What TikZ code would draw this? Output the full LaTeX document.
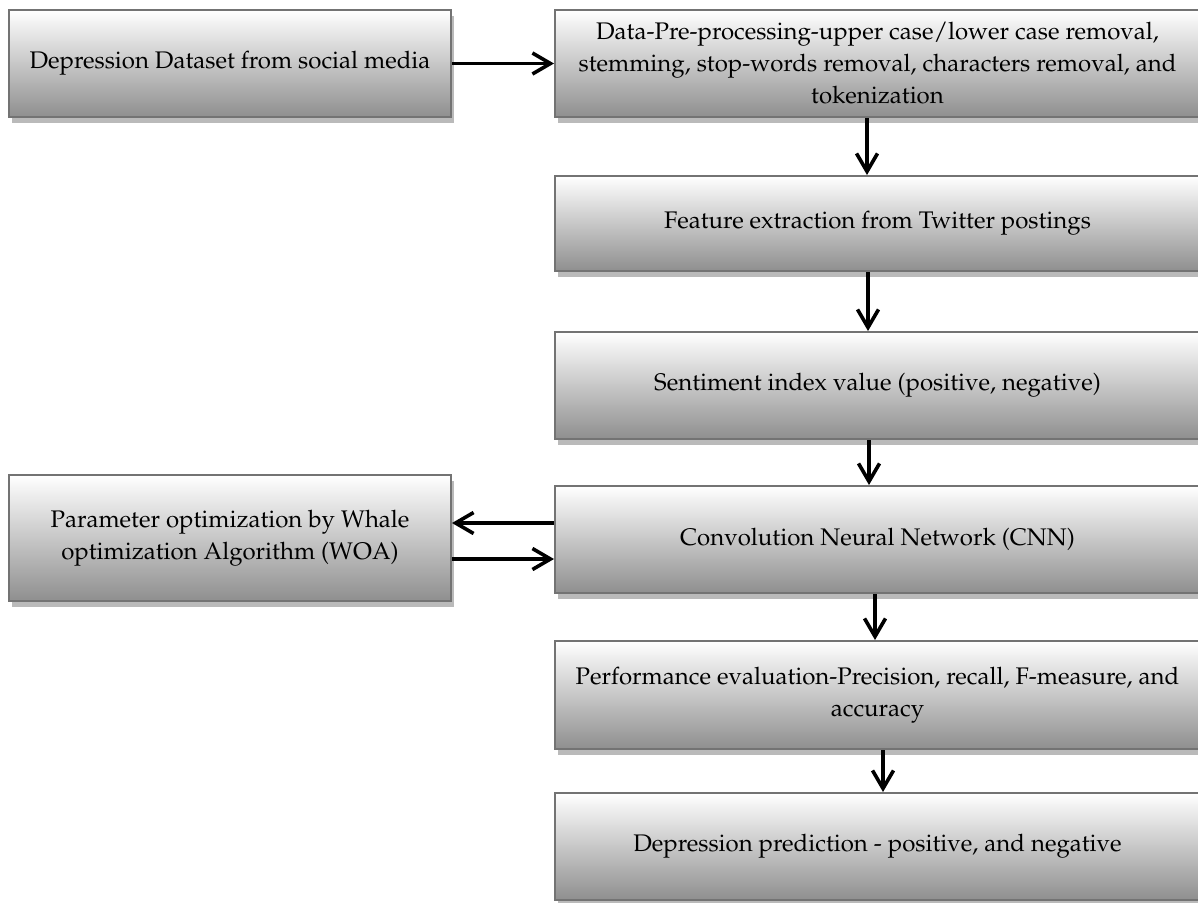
\documentclass[tikz,border=0pt]{standalone}
\usepackage[T1]{fontenc}
\usepackage{mathpazo}
\usepackage{tikz}
\usetikzlibrary{positioning, arrows.meta, shadows}

\begin{document}
\begin{tikzpicture}[
    x=0.5pt, y=-0.5pt,
    >={Straight Barb[length=9pt,width=10.5pt]},
    box/.style={draw=black!55, line width=1pt, top color=white, bottom color=black!44,
        drop shadow={shadow xshift=1.5pt, shadow yshift=-3pt, fill=black!27, opacity=1},
        minimum height=53.5pt, inner sep=0pt, align=center,
        font=\fontsize{12}{16}\selectfont},
    leftbox/.style={box, minimum width=221pt},
    rightbox/.style={box, minimum width=322.5pt},
    flow/.style={->, line width=1.8pt}
]
    % Bildausschnitt
    \clip (0,0) rectangle (1198,902);

    % Kaesten links
    \node[leftbox] (src) at (230,63.5) {Depression Dataset from social media};
    \node[leftbox, minimum height=63pt] (woa) at (230,538)
        {Parameter optimization by Whale\\ optimization Algorithm (WOA)};

    % Kaesten rechts
    \node[rightbox] (pre) at (877.5,63.5)
        {Data-Pre-processing-upper case/lower case removal,\\ stemming, stop-words removal, characters removal, and\\ tokenization};
    \node[rightbox, minimum height=47.5pt] (feat) at (877.5,223.5) {Feature extraction from Twitter postings};
    \node[rightbox] (sent) at (877.5,385.5) {Sentiment index value (positive, negative)};
    \node[rightbox] (cnn) at (877.5,539.5) {Convolution Neural Network (CNN)};
    \node[rightbox, minimum height=54pt] (perf) at (877.5,695)
        {Performance evaluation-Precision, recall, F-measure, and\\ accuracy};
    \node[rightbox] (pred) at (877.5,846.5) {Depression prediction - positive, and negative};

    % Pfeile
    \draw[flow] (src) -- (pre);
    \draw[flow] ([xshift=-5.25pt]pre.south) -- ([xshift=-5.25pt]feat.north);
    \draw[flow] ([xshift=-4.75pt]feat.south) -- ([xshift=-4.75pt]sent.north);
    \draw[flow] ([xshift=-4.25pt]sent.south) -- ([xshift=-4.25pt]cnn.north);
    \draw[flow] ([xshift=-1.25pt]cnn.south) -- ([xshift=-1.25pt]perf.north);
    \draw[flow] ([xshift=2.75pt]perf.south) -- ([xshift=2.75pt]pred.north);

    % Rueckkopplung WOA
    \coordinate (w1) at ([yshift=8.25pt]cnn.west);
    \coordinate (w2) at ([yshift=-9.75pt]cnn.west);
    \draw[flow] (w1) -- (w1 -| woa.east);
    \draw[flow] (w2 -| woa.east) -- (w2);
\end{tikzpicture}
\end{document}
